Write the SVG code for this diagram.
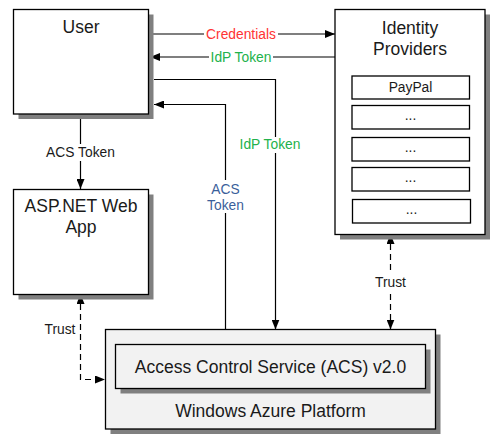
<svg xmlns="http://www.w3.org/2000/svg" width="498" height="444" viewBox="0 0 498 444">
<defs>
<style>
.box{fill:#fff;stroke:#000;stroke-width:1.3}
.sh{fill:#808080}
.t{font-family:"Liberation Sans",Arial,sans-serif;fill:#1a1a1a;text-anchor:middle}
.big{font-size:17.5px}
.lbl{font-size:13.8px}
.c{fill:none;stroke:#000;stroke-width:1.2}
.d{stroke-dasharray:6,4}
.bg{fill:#fff}
</style>
<marker id="a" markerUnits="userSpaceOnUse" markerWidth="10" markerHeight="8" refX="10" refY="4" orient="auto-start-reverse">
<path d="M0,0 L10,4 L0,8 z" fill="#000"/>
</marker>
</defs>
<rect width="498" height="444" fill="#fff"/>

<g id="connectors">
<path class="c" d="M148.5,34 H335" marker-end="url(#a)"/>
<path class="c" d="M335,57 H150" marker-end="url(#a)"/>
<path class="c" d="M154,79.5 H275.5 V329.5" marker-end="url(#a)"/>
<path class="c" d="M225.5,329.5 V104.5 H154" marker-end="url(#a)"/>
<path class="c" d="M80.5,114 V189" marker-end="url(#a)"/>
<path class="c d" d="M80.5,294 V379.5 H105" marker-start="url(#a)" marker-end="url(#a)"/>
<path class="c d" d="M390.5,234 V329.5" marker-start="url(#a)" marker-end="url(#a)"/>
<rect class="bg" x="204" y="26" width="74" height="16"/>
<text class="t lbl" x="241" y="38.5" style="fill:#ff3333">Credentials</text>
<rect class="bg" x="209" y="49" width="64" height="16"/>
<text class="t lbl" x="241" y="61.5" style="fill:#22b24c">IdP Token</text>
<rect class="bg" x="238" y="137" width="64" height="16"/>
<text class="t lbl" x="270" y="149" style="fill:#22b24c">IdP Token</text>
<rect class="bg" x="205" y="180" width="41" height="33"/>
<text class="t lbl" x="225.5" y="193.5" style="fill:#3b5f9b">ACS</text>
<text class="t lbl" x="225.5" y="209.5" style="fill:#3b5f9b">Token</text>
<rect class="bg" x="43" y="144" width="75" height="17"/>
<text class="t lbl" x="80.5" y="157">ACS Token</text>
<rect class="bg" x="43" y="321" width="34" height="17"/>
<text class="t lbl" x="60" y="333.5">Trust</text>
<rect class="bg" x="372" y="274" width="37" height="17"/>
<text class="t lbl" x="390.5" y="287">Trust</text>
</g>

<g id="user">
<rect class="sh" x="18.5" y="14.5" width="135" height="104.5"/>
<rect class="box" x="13.5" y="9.5" width="135" height="104.5"/>
<text class="t big" x="81" y="32.5">User</text>
</g>

<g id="aspnet">
<rect class="sh" x="18.5" y="194.5" width="135" height="105"/>
<rect class="box" x="13.5" y="189.5" width="135" height="105"/>
<text class="t big" x="81" y="212">ASP.NET Web</text>
<text class="t big" x="81" y="233">App</text>
</g>

<g id="identity-providers">
<rect class="sh" x="340" y="14.5" width="150" height="225"/>
<rect class="box" x="335" y="9.5" width="150" height="225"/>
<text class="t big" x="410" y="33.5">Identity</text>
<text class="t big" x="410" y="54.5">Providers</text>
</g>
<g id="paypal">
<rect class="box" x="352" y="76" width="117.5" height="23"/>
<text class="t lbl" x="410.5" y="91.5">PayPal</text>
</g>
<g id="idp2">
<rect class="box" x="352" y="105.5" width="117.5" height="23.5"/>
<text class="t lbl" x="410.5" y="120">...</text>
</g>
<g id="idp3">
<rect class="box" x="352" y="137.5" width="117.5" height="23.5"/>
<text class="t lbl" x="410.5" y="152">...</text>
</g>
<g id="idp4">
<rect class="box" x="352" y="167.5" width="117.5" height="23.5"/>
<text class="t lbl" x="410.5" y="182">...</text>
</g>
<g id="idp5">
<rect class="box" x="352.5" y="199.5" width="118" height="23.5"/>
<text class="t lbl" x="411.5" y="214">...</text>
</g>

<g id="azure">
<rect class="sh" x="110.5" y="334.5" width="330" height="99.5"/>
<rect class="box" x="105.5" y="329.5" width="330" height="99.5" style="fill:#f2f2f2"/>
<text class="t big" x="270.5" y="416.5">Windows Azure Platform</text>
</g>
<g id="acs">
<rect class="sh" x="120.5" y="349.5" width="310" height="44"/>
<rect class="box" x="115.5" y="344.5" width="310" height="44" style="fill:#f2f2f2"/>
<text class="t big" x="270.5" y="372.5">Access Control Service (ACS) v2.0</text>
</g>
</svg>
